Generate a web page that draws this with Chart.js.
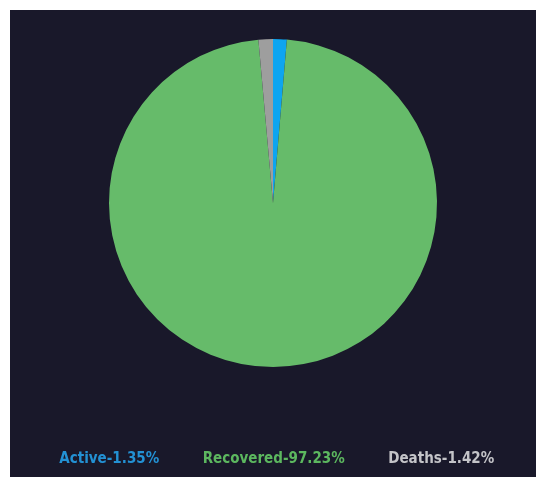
<!DOCTYPE html>
<html>
<head>
<meta charset="utf-8">
<script src="https://cdn.jsdelivr.net/npm/chart.js@4"></script>
<style>
    body {
        margin: 0;
        background: #ffffff;
    }
    .painel {
        position: absolute;
        left: 10px;
        top: 10px;
        width: 526px;
        height: 467px;
        background: #19182a;
    }
</style>
</head>
<body>
<div class="painel">
    <canvas id="graficoCasos" width="526" height="467"></canvas>
</div>
<script>
const categorias = ['Active', 'Recovered', 'Deaths'];
const porcentagens = [1.35, 97.23, 1.42];
const coresFatia = ['#0ea5f0', '#66bb6a', '#9e9e9e'];
const coresTexto = ['#2391d4', '#5cb75f', '#c4c4c8'];

const config = {
    type: 'pie',
    data: {
        labels: categorias,
        datasets: [{
            data: porcentagens,
            backgroundColor: coresFatia,
            borderWidth: 0,
            radius: 164
        }]
    },
    options: {
        responsive: false,
        animation: false,
        plugins: {
            tooltip: {
                enabled: false
            },
            legend: {
                position: 'bottom',
                // titulo vazio so para empurrar a legenda pra cima
                title: {
                    display: true,
                    text: '',
                    color: 'rgba(0,0,0,0)',
                    font: {
                        size: 10
                    },
                    padding: 4
                },
                labels: {
                    boxWidth: 0,
                    padding: 36,
                    font: {
                        family: "'DejaVu Sans Condensed', sans-serif",
                        size: 15,
                        weight: 'bold'
                    },
                    generateLabels: (chart) => categorias.map((nome, i) => ({
                        text: nome + '-' + porcentagens[i].toFixed(2) + '%',
                        fillStyle: 'rgba(0,0,0,0)',
                        strokeStyle: 'rgba(0,0,0,0)',
                        lineWidth: 0,
                        fontColor: coresTexto[i],
                        hidden: false,
                        index: i
                    }))
                }
            }
        }
    }
};

const grafico = new Chart(document.getElementById('graficoCasos'), config);
</script>
</body>
</html>
